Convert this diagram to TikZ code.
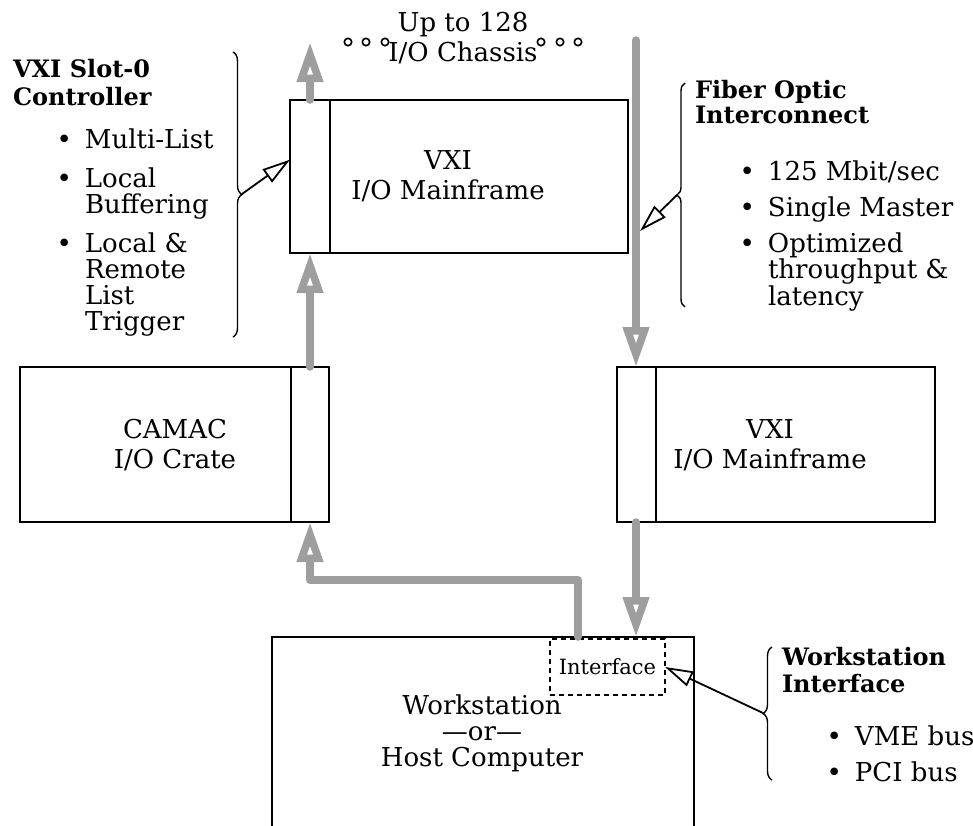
\documentclass[tikz,border=0pt]{standalone}
\usepackage{fontspec}
\setmainfont{DejaVu Serif}
\usetikzlibrary{arrows.meta,decorations.pathreplacing,calc}
\definecolor{linegray}{RGB}{158,158,158}
\newcommand{\mybullet}{\llap{\textbullet\hspace{13pt}}}
\begin{document}
\begin{tikzpicture}[x=1pt,y=-1pt,
  every node/.style={inner sep=0pt, outer sep=0pt},
  box/.style={draw, line width=2.5pt},
  boxtext/.style={font=\fontsize{26}{30}\selectfont, align=center},
  txt/.style={font=\fontsize{26}{26}\selectfont, align=left, anchor=base west},
  ttl/.style={font=\fontsize{24}{26}\selectfont\bfseries, align=left, anchor=base west},
  divider/.style={line width=2pt},
  pipe/.style={draw=linegray, line width=7.5pt, line cap=round, line join=round},
  garrow/.style={pipe, -{Triangle[open,length=40pt,width=25pt]}},
  barrow/.style={line width=1.8pt, -{Triangle[open,length=28pt,width=16pt]}},
  bracestyle/.style={decorate, decoration={brace, amplitude=9pt, aspect=0.5}, line width=1.4pt}
]
\useasboundingbox (0,0) rectangle (973,825);

% boxes
\node[box, minimum width=338pt, minimum height=153pt] (topvxi) at (459,176.5) {};
\node[boxtext] (topvxitext) at (448,176) {VXI\\I/O Mainframe};
\draw[divider] ($(topvxi.north west)+(40,0)$) -- ($(topvxi.south west)+(40,0)$);

\node[box, minimum width=309pt, minimum height=155pt] (camac) at (174.5,444.5) {};
\node[boxtext] (camactext) at (175,445) {CAMAC\\I/O Crate};
\draw[divider] ($(camac.north east)+(-38,0)$) -- ($(camac.south east)+(-38,0)$);

\node[box, minimum width=318pt, minimum height=155pt] (rvxi) at (776,444.5) {};
\node[boxtext] (rvxitext) at (770,445) {VXI\\I/O Mainframe};
\draw[divider] ($(rvxi.north west)+(39,0)$) -- ($(rvxi.south west)+(39,0)$);

\node[minimum width=422pt, minimum height=200pt] (ws) at (483,737) {};
\draw[line width=2.5pt] (ws.south west) -- (ws.north west) -- (ws.north east) -- (ws.south east);
\node[font=\fontsize{26}{26}\selectfont, align=center] (wstext) at (482,733) {Workstation\\---or---\\Host Computer};
\node[draw, dashed, dash pattern=on 5pt off 4pt, line width=1.5pt, minimum width=115pt, minimum height=56pt, font=\fontsize{21}{22}\selectfont] (iface) at (607.5,667) {Interface};

% top label
\node[font=\fontsize{26}{30}\selectfont, align=center] (chassis) at (463,38) {Up to 128\\I/O Chassis};
\foreach \cx in {348,366,385,541,560,578}
  \draw[line width=1.6pt] (\cx,42) circle (3.7pt);

% columns
\coordinate (cx) at (310,0);
\coordinate (rx) at (636,0);
\coordinate (topend) at (310,42);
\coordinate (rtop) at (636,40);
\coordinate (bend) at (578,580);

% gray pipes
\draw[garrow] (camac.north -| cx) -- (topvxi.south -| cx);
\draw[garrow] (topvxi.north -| cx) -- (topend);
\draw[garrow] (rtop) -- (rvxi.north -| rx);
\draw[garrow] (rvxi.south -| rx) -- (ws.north -| rx);
\draw[garrow] (ws.north -| bend) -- (bend) -- (bend -| cx) -- (camac.south -| cx);

% left annotation (base = last line)
\node[ttl, font=\fontsize{24}{28}\selectfont\bfseries] (slottitle) at (13,105) {VXI Slot-0\\Controller};
\node[txt] (slot1) at (85,148) {\mybullet Multi-List};
\node[txt] (slot2) at (85,213) {\mybullet Local\\Buffering};
\node[txt] (slot3) at (85,330) {\mybullet Local \&\\Remote\\List\\Trigger};
\draw[bracestyle] (233,52) -- (233,337);
\coordinate (slottip) at (242,194);
\draw[barrow] (slottip) -- ($(topvxi.north west)!0.39!(topvxi.south west)$);

% fiber annotation
\node[ttl, font=\fontsize{24}{25}\selectfont\bfseries] (fibertitle) at (695,123) {Fiber Optic\\Interconnect};
\node[txt] (fib1) at (768,180) {\mybullet 125 Mbit/sec};
\node[txt] (fib2) at (768,216) {\mybullet Single Master};
\node[txt, font=\fontsize{26}{25}\selectfont] (fib3) at (768,305) {\mybullet Optimized\\throughput \&\\latency};
\draw[bracestyle, decoration={amplitude=8pt}] (685,307) -- (685,83);
\coordinate (fibtip) at (677,195);
\draw[barrow] (fibtip) -- (640,231);

% workstation annotation
\node[ttl, font=\fontsize{24}{27}\selectfont\bfseries] (wstitle) at (782,692) {Workstation\\Interface};
\node[txt] (ws1) at (855,745) {\mybullet VME bus};
\node[txt] (ws2) at (855,781) {\mybullet PCI bus};
\draw[bracestyle] (772,780) -- (772,647);
\coordinate (wstip) at (763,713);
\draw[barrow] (wstip) -- (iface.east);
\end{tikzpicture}
\end{document}
